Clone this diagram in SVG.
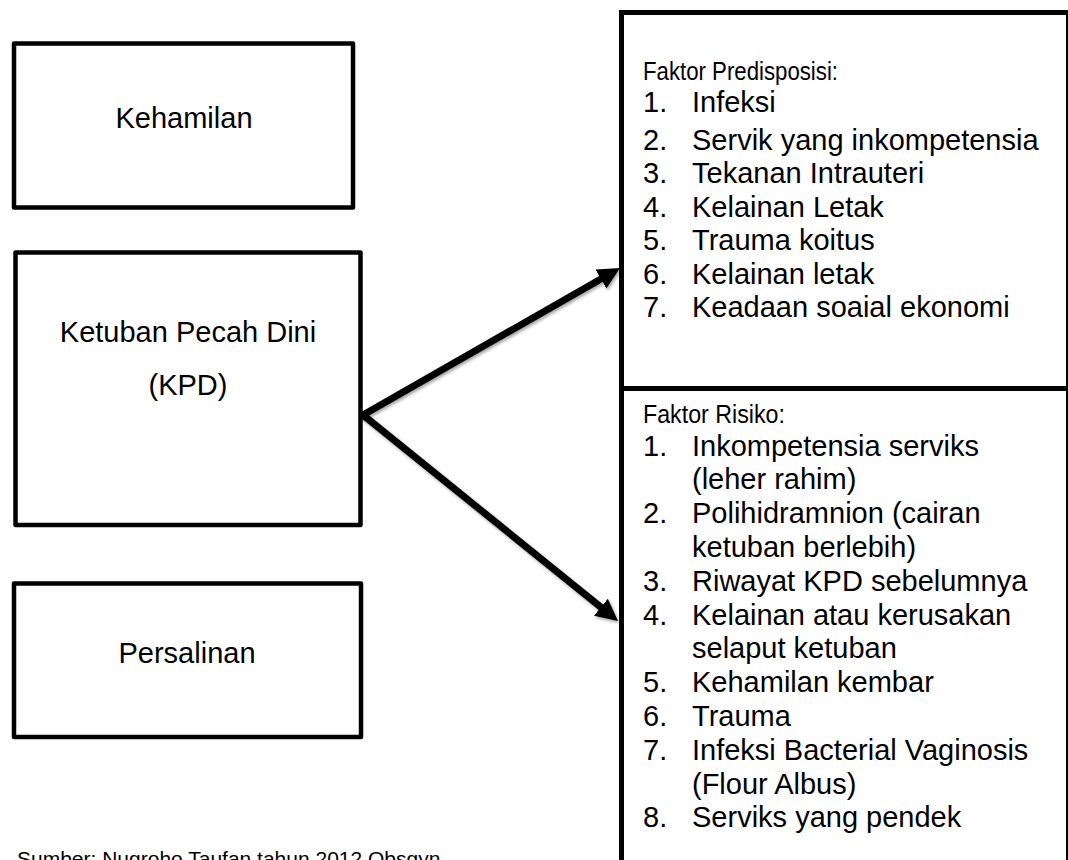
<svg xmlns="http://www.w3.org/2000/svg" width="1068" height="860" viewBox="0 0 1068 860">
<style>
.box{fill:#fff;stroke:#000;stroke-width:4.5;stroke-linejoin:round}
.rbox{fill:#fff;stroke:#000;stroke-width:5}
.t{font-family:"Liberation Sans",Arial,sans-serif;font-size:29px;fill:#000}
.c{text-anchor:middle}
.h{font-size:26px}
.cap{font-family:"Liberation Sans",Arial,sans-serif;font-size:21px;fill:#000}
.ar{stroke:#000;fill:none;marker-end:url(#ah);filter:url(#sh)}
</style>
<defs>
<marker id="ah" markerUnits="userSpaceOnUse" markerWidth="24" markerHeight="24" refX="10" refY="11" orient="auto">
<path d="M0,0 L22,11 L0,22 Z" fill="#000"/>
</marker>
<filter id="sh" x="-20%" y="-20%" width="140%" height="140%">
<feDropShadow dx="1.5" dy="2" stdDeviation="1.5" flood-color="#000" flood-opacity="0.35"/>
</filter>
</defs>
<rect width="1068" height="860" fill="#fff"/>

<g id="kehamilan">
<rect class="box" x="14" y="43.5" width="339" height="164"/>
<text class="t c" x="184" y="128">Kehamilan</text>
</g>

<g id="kpd">
<rect class="box" x="15.5" y="252.5" width="345" height="272.5"/>
<text class="t c" x="188" y="342">Ketuban Pecah Dini</text>
<text class="t c" x="188" y="395">(KPD)</text>
</g>

<g id="persalinan">
<rect class="box" x="14" y="583.5" width="347" height="153.5"/>
<text class="t c" x="187" y="663">Persalinan</text>
</g>

<g id="predisposisi">
<rect class="rbox" x="621.5" y="12.5" width="447" height="376"/>
<text class="t h" x="643" y="80" textLength="195" lengthAdjust="spacingAndGlyphs">Faktor Predisposisi:</text>
<text class="t" x="643" y="112">1.</text><text class="t" x="692" y="112">Infeksi</text>
<text class="t" x="643" y="149.5">2.</text><text class="t" x="692" y="149.5">Servik yang inkompetensia</text>
<text class="t" x="643" y="183">3.</text><text class="t" x="692" y="183">Tekanan Intrauteri</text>
<text class="t" x="643" y="216.5">4.</text><text class="t" x="692" y="216.5">Kelainan Letak</text>
<text class="t" x="643" y="250">5.</text><text class="t" x="692" y="250">Trauma koitus</text>
<text class="t" x="643" y="283.5">6.</text><text class="t" x="692" y="283.5">Kelainan letak</text>
<text class="t" x="643" y="317">7.</text><text class="t" x="692" y="317">Keadaan soaial ekonomi</text>
</g>

<g id="risiko">
<rect class="rbox" x="621.5" y="388.5" width="447" height="500"/>
<text class="t h" x="643" y="423" textLength="142" lengthAdjust="spacingAndGlyphs">Faktor Risiko:</text>
<text class="t" x="643" y="455.5">1.</text><text class="t" x="692" y="455.5">Inkompetensia serviks</text>
<text class="t" x="692" y="489.3">(leher rahim)</text>
<text class="t" x="643" y="523.1">2.</text><text class="t" x="692" y="523.1">Polihidramnion (cairan</text>
<text class="t" x="692" y="556.9">ketuban berlebih)</text>
<text class="t" x="643" y="590.7">3.</text><text class="t" x="692" y="590.7">Riwayat KPD sebelumnya</text>
<text class="t" x="643" y="624.5">4.</text><text class="t" x="692" y="624.5">Kelainan atau kerusakan</text>
<text class="t" x="692" y="658.3">selaput ketuban</text>
<text class="t" x="643" y="692.1">5.</text><text class="t" x="692" y="692.1">Kehamilan kembar</text>
<text class="t" x="643" y="725.9">6.</text><text class="t" x="692" y="725.9">Trauma</text>
<text class="t" x="643" y="759.7">7.</text><text class="t" x="692" y="759.7">Infeksi Bacterial Vaginosis</text>
<text class="t" x="692" y="793.5">(Flour Albus)</text>
<text class="t" x="643" y="827.3">8.</text><text class="t" x="692" y="827.3">Serviks yang pendek</text>
</g>

<g id="caption">
<text class="cap" x="17" y="866">Sumber: Nugroho Taufan tahun 2012 Obsgyn</text>
</g>

<g id="connectors">
<line class="ar" x1="187.5" y1="210" x2="187.5" y2="238" stroke-width="8"/>
<line class="ar" x1="189" y1="527" x2="189" y2="570" stroke-width="8"/>
<line class="ar" x1="363" y1="415" x2="609.6" y2="274" stroke-width="7" stroke-linecap="round"/>
<line class="ar" x1="363" y1="415" x2="608.7" y2="613.5" stroke-width="7" stroke-linecap="round"/>
</g>
</svg>
